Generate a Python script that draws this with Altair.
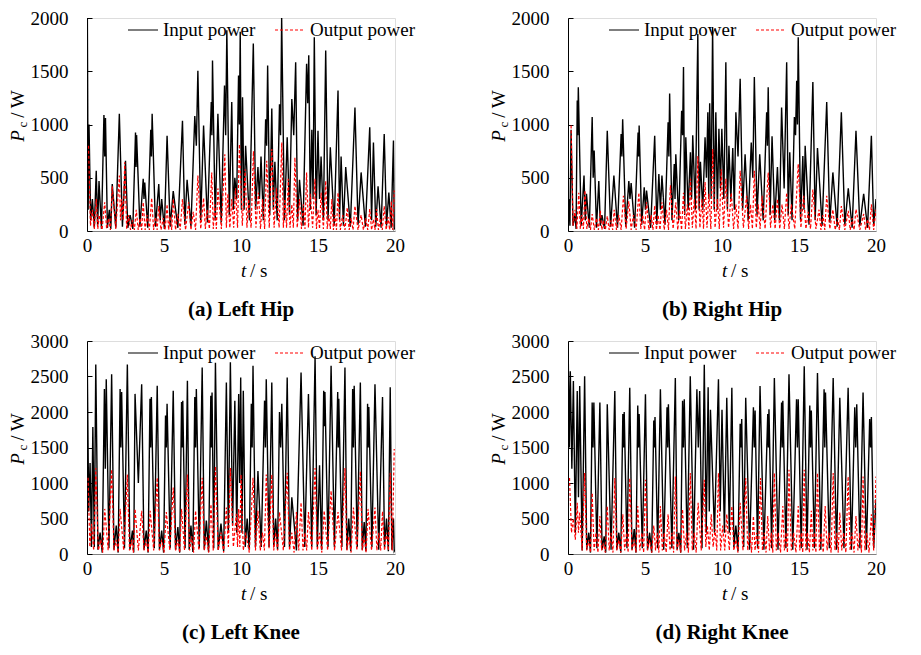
import altair as alt
import pandas as pd

FONT = "Liberation Serif"
SERIES = ["Input power", "Output power"]
COLORS = ["#000000", "#ff0000"]
DASHES = [[1, 0], [3, 2]]
X_TICKS = [0, 5, 10, 15, 20]
HIP_TICKS = [0, 500, 1000, 1500, 2000]
KNEE_TICKS = [0, 500, 1000, 1500, 2000, 2500, 3000]
CAPTIONS = ["(a) Left Hip", "(b) Right Hip", "(c) Left Knee", "(d) Right Knee"]

# (time of peak [s], peak power [W], dip after the peak [W])
A_IN = [(0.02,2100,200),(0.13,1000,100),(0.35,300,30),(0.6,565,50),(0.78,470,20),(1.1,1090,700),(1.2,1060,30),(1.45,200,20),(1.64,440,30),(2.1,1100,40),(2.5,660,30),(2.8,150,20),(3.15,925,600),(3.22,900,40),(3.65,490,300),(3.75,455,30),(4.14,950,700),(4.23,1100,40),(4.66,440,100),(4.85,300,20),(5.2,895,40),(5.6,375,30),(6.2,1035,60),(6.5,480,40),(7.0,1080,800),(7.2,1505,100),(7.57,990,80),(8.07,1210,900),(8.15,1600,100),(8.5,1100,80),(8.93,1365,900),(9.08,1885,150),(9.4,1210,200),(9.6,500,300),(9.84,1460,1000),(9.95,1870,200),(10.1,1255,200),(10.3,800,100),(10.8,1760,200),(11.1,600,300),(11.3,700,100),(11.6,1050,800),(11.73,1555,150),(12.0,1150,200),(12.2,650,100),(12.5,1190,900),(12.64,2000,100),(13.0,880,150),(13.3,1240,900),(13.55,1585,100),(13.8,480,50),(14.26,1570,1200),(14.4,1650,200),(14.6,950,300),(14.76,1820,150),(15.0,940,300),(15.2,700,100),(15.5,1695,100),(15.8,785,50),(16.3,1320,100),(16.5,700,50),(16.8,600,40),(17.4,1160,60),(17.8,550,40),(18.36,975,100),(18.6,830,40),(18.9,420,30),(19.3,910,50),(19.6,360,30),(19.9,850,20),(20.0,30,0)]
A_OUT = [(0.1,800,50),(0.35,200,20),(0.6,300,20),(0.8,150,10),(1.15,270,20),(1.4,120,10),(1.64,420,20),(2.1,520,100),(2.25,300,100),(2.45,645,20),(2.7,150,10),(2.95,100,10),(3.2,200,10),(3.45,120,10),(3.65,270,10),(3.9,150,10),(4.2,310,10),(4.45,130,10),(4.66,235,10),(4.95,120,10),(5.2,250,10),(5.4,140,10),(5.6,300,10),(5.9,160,10),(6.2,300,10),(6.6,270,10),(6.9,180,10),(7.2,520,20),(7.57,310,20),(7.8,200,20),(8.1,550,20),(8.3,250,20),(8.5,400,20),(8.95,720,30),(9.15,350,30),(9.4,300,30),(9.65,400,30),(9.9,815,50),(10.27,580,30),(10.5,300,30),(10.81,750,30),(11.13,360,20),(11.4,300,20),(11.67,660,30),(12.0,770,30),(12.3,400,30),(12.65,830,30),(12.85,300,30),(13.07,490,30),(13.3,250,30),(13.5,690,30),(13.8,300,20),(14.05,250,20),(14.26,550,30),(14.5,350,30),(14.8,490,20),(15.0,200,20),(15.2,360,20),(15.5,470,20),(15.7,150,20),(15.9,300,10),(16.1,150,10),(16.3,360,10),(16.6,150,10),(16.9,220,10),(17.15,120,10),(17.4,235,10),(17.8,150,10),(18.1,120,10),(18.36,205,10),(18.6,110,10),(18.8,205,10),(19.05,120,10),(19.3,235,10),(19.55,130,10),(19.76,280,10),(19.95,380,0)]

B_IN = [(0.05,300,50),(0.2,950,50),(0.45,150,20),(0.6,1225,900),(0.67,1350,50),(1.04,520,100),(1.2,350,30),(1.57,1070,500),(1.7,755,30),(2.0,470,50),(2.2,150,20),(2.55,940,40),(2.98,520,30),(3.45,910,700),(3.55,1050,40),(3.95,470,300),(4.1,450,30),(4.55,925,700),(4.62,990,60),(4.95,410,200),(5.1,380,30),(5.63,895,60),(5.9,535,200),(6.1,520,60),(6.5,1020,700),(6.6,1290,100),(6.9,630,300),(7.0,720,100),(7.38,1130,900),(7.5,1540,150),(7.65,880,200),(7.95,740,300),(8.1,900,200),(8.43,1850,200),(8.6,650,200),(8.9,880,500),(9.08,1115,300),(9.2,1200,300),(9.39,1915,200),(9.6,1115,200),(9.8,960,400),(9.99,960,300),(10.25,1585,200),(10.45,800,300),(10.7,780,200),(10.9,1115,700),(11.18,1430,200),(11.5,720,100),(11.9,830,500),(12.1,1445,150),(12.45,720,100),(12.9,1115,800),(13.0,1350,150),(13.25,890,100),(13.6,600,100),(13.87,1160,400),(14.2,1585,150),(14.4,740,100),(14.7,1070,900),(14.85,1410,1000),(14.95,1820,100),(15.25,705,200),(15.4,800,60),(15.9,1400,100),(16.2,780,50),(16.8,1210,80),(17.2,550,40),(17.75,1115,60),(18.2,400,30),(18.7,940,50),(19.2,350,30),(19.7,895,50),(20.0,300,0)]
B_OUT = [(0.2,990,50),(0.45,200,20),(0.7,360,20),(0.9,150,20),(1.1,380,20),(1.35,120,10),(1.57,160,10),(1.85,120,10),(2.1,190,10),(2.3,100,10),(2.55,140,10),(2.8,100,10),(3.0,200,10),(3.3,150,10),(3.6,330,20),(3.95,280,10),(4.25,150,10),(4.6,360,20),(4.85,150,10),(5.1,270,10),(5.4,150,10),(5.63,240,10),(5.85,150,10),(6.1,270,10),(6.4,200,10),(6.65,430,20),(7.0,270,10),(7.25,200,10),(7.5,360,20),(7.75,250,20),(7.95,490,30),(8.2,300,20),(8.43,705,30),(8.7,300,20),(8.9,460,30),(9.15,350,20),(9.4,770,30),(9.7,300,20),(9.95,580,30),(10.25,490,30),(10.6,360,20),(10.9,250,20),(11.18,565,30),(11.6,330,20),(11.85,250,20),(12.1,565,30),(12.35,250,20),(12.6,330,20),(13.0,550,30),(13.3,250,20),(13.6,300,20),(13.9,250,20),(14.2,360,20),(14.5,250,20),(14.95,630,30),(15.3,330,20),(15.6,180,20),(15.9,390,20),(16.3,200,10),(16.55,150,10),(16.8,330,20),(17.2,200,10),(17.5,120,10),(17.75,235,10),(18.2,190,10),(18.45,120,10),(18.7,205,10),(19.2,160,10),(19.45,110,10),(19.7,250,10),(20.0,200,0)]

C_IN = [(0.02,2650,600),(0.2,1280,100),(0.38,1790,100),(0.57,2670,60),(0.85,300,20),(1.13,2325,1200),(1.25,2460,80),(1.6,2530,60),(1.9,400,20),(2.15,2325,1500),(2.25,2280,80),(2.62,2670,60),(2.95,330,20),(3.12,2255,1000),(3.55,2390,60),(3.85,330,20),(4.09,2185,1500),(4.18,2210,80),(4.56,2370,60),(4.85,330,20),(5.1,1950,1500),(5.2,2115,80),(5.6,2300,60),(5.9,380,20),(6.14,2140,1500),(6.22,2160,80),(6.52,2440,60),(6.75,400,30),(7.0,2210,1500),(7.1,2325,80),(7.48,2625,60),(7.75,470,30),(8.04,2230,1500),(8.12,2275,80),(8.34,2695,60),(8.7,430,40),(9.05,2415,300),(9.31,2700,400),(9.6,2160,300),(9.85,2255,1000),(9.98,2485,300),(10.15,2300,100),(10.4,500,60),(10.67,2115,1500),(10.78,2650,100),(11.1,1170,100),(11.53,2160,1500),(11.64,2460,100),(12.0,2415,100),(12.25,500,60),(12.5,2000,1500),(12.65,2115,100),(13.0,2485,100),(13.3,800,50),(13.9,2555,100),(14.38,2255,100),(14.81,2785,100),(15.1,1250,60),(15.37,2300,1800),(15.45,2280,100),(15.85,2650,100),(16.28,2280,1500),(16.35,2185,100),(16.75,2625,60),(17.0,500,40),(17.25,2325,1500),(17.35,2370,100),(17.75,2415,60),(18.0,450,40),(18.22,2115,1500),(18.3,2070,100),(18.7,2390,60),(19.19,2210,100),(19.45,500,40),(19.69,2350,60),(19.9,500,40),(20.0,60,0)]
C_OUT = [(0.07,1075,100),(0.3,425,50),(0.57,1210,50),(0.9,200,20),(1.15,635,50),(1.6,1190,50),(1.9,200,20),(2.15,635,50),(2.62,1120,50),(2.9,200,20),(3.12,635,50),(3.55,610,50),(3.85,200,20),(4.1,610,50),(4.56,1075,50),(4.85,200,20),(5.15,590,50),(5.6,935,50),(5.9,200,20),(6.14,635,50),(6.52,1120,50),(6.8,250,20),(7.05,610,50),(7.48,1075,50),(7.75,250,20),(8.05,700,50),(8.34,1235,50),(8.7,300,20),(9.05,655,100),(9.31,1210,100),(9.7,565,100),(9.85,635,100),(10.0,1120,50),(10.3,300,20),(10.78,1075,50),(11.1,610,50),(11.4,300,50),(11.64,1120,80),(12.0,1120,50),(12.25,300,50),(12.5,590,50),(13.0,1145,50),(13.3,300,20),(13.6,590,50),(13.9,725,50),(14.15,300,50),(14.38,590,50),(14.81,1210,50),(15.1,300,20),(15.4,610,50),(15.85,890,50),(16.3,590,50),(16.75,1210,50),(17.0,250,20),(17.3,655,50),(17.75,1165,50),(18.0,250,20),(18.25,635,50),(18.7,655,50),(18.95,300,50),(19.19,600,50),(19.45,300,50),(19.69,1145,50),(19.95,1480,0)]

D_IN = [(0.02,2710,1500),(0.15,2575,1200),(0.35,2435,300),(0.6,2295,800),(0.76,2365,50),(1.08,2505,60),(1.35,300,20),(1.57,2135,1500),(1.68,2135,80),(2.07,2135,60),(2.35,250,20),(2.55,2110,60),(3.04,2295,60),(3.3,300,20),(3.56,1970,1500),(3.65,2000,80),(4.01,2340,60),(4.3,350,20),(4.53,2090,1500),(4.62,1970,80),(5.03,2250,60),(5.3,300,20),(5.57,1880,1500),(5.65,1930,80),(6.0,2320,60),(6.43,2065,1500),(6.52,2110,80),(6.97,2480,60),(7.2,300,20),(7.44,2160,1500),(7.55,2180,80),(7.94,2505,60),(8.37,2320,1500),(8.55,2295,80),(8.85,2665,300),(9.1,2350,600),(9.25,2030,300),(9.77,2460,600),(10.0,2030,300),(10.31,2200,300),(10.64,2340,100),(10.9,400,40),(11.18,1835,1500),(11.28,1900,100),(11.54,2200,60),(12.04,2065,1500),(12.15,2020,80),(12.47,2365,60),(12.97,1970,1500),(13.05,2040,80),(13.4,2480,60),(13.87,2135,1500),(13.95,2160,80),(14.35,2530,60),(14.84,2180,1500),(14.95,2180,80),(15.34,2645,60),(15.7,2090,1500),(15.8,2020,80),(16.2,2550,60),(16.63,2320,1500),(16.72,2275,80),(17.22,2480,60),(17.65,2200,80),(18.19,2340,60),(18.62,2065,1500),(18.75,2110,80),(19.16,2275,60),(19.59,1900,1500),(19.7,1930,80),(20.0,770,0)]
D_OUT = [(0.1,1070,300),(0.35,500,200),(0.6,720,300),(0.76,585,50),(1.08,1140,50),(1.35,200,20),(1.57,860,50),(1.82,300,20),(2.07,535,50),(2.3,150,20),(2.55,675,50),(2.8,300,20),(3.04,1070,50),(3.3,200,20),(3.56,560,50),(3.8,300,20),(4.01,1070,50),(4.3,200,20),(4.53,675,50),(4.8,300,20),(5.03,1045,50),(5.3,200,20),(5.57,400,50),(5.8,300,20),(6.0,675,50),(6.25,300,20),(6.5,560,50),(6.75,300,20),(6.97,1090,50),(7.2,200,20),(7.44,630,50),(7.7,300,20),(7.94,1140,50),(8.2,300,20),(8.45,720,50),(8.85,1045,100),(9.05,400,50),(9.3,560,100),(9.55,350,50),(9.77,1140,50),(10.05,400,50),(10.31,560,50),(10.64,675,50),(10.9,200,20),(11.18,720,50),(11.54,1070,50),(11.8,300,20),(12.04,535,50),(12.25,300,20),(12.5,1070,50),(12.75,300,20),(12.97,535,50),(13.2,300,20),(13.4,1140,50),(13.65,300,20),(13.95,675,50),(14.15,300,20),(14.35,1185,50),(14.65,300,20),(14.95,675,50),(15.15,300,20),(15.34,1185,50),(15.55,300,20),(15.8,610,50),(16.0,300,20),(16.2,1140,50),(16.45,300,20),(16.7,675,50),(16.95,300,20),(17.22,1140,50),(17.45,300,20),(17.65,585,50),(17.9,300,20),(18.19,1090,50),(18.45,300,20),(18.7,535,50),(18.95,300,20),(19.16,1090,50),(19.4,300,20),(19.7,560,50),(20.0,1090,0)]

W, H = 308, 213


def table(peaks, name):
    rows = []
    for i, (t, p, dip) in enumerate(peaks):
        rows.append({"t": t, "p": p, "series": name})
        if i + 1 < len(peaks):
            rows.append({"t": (t + peaks[i + 1][0]) / 2, "p": dip, "series": name})
    return pd.DataFrame(rows)


ONE = pd.DataFrame({"k": [0]})


def txt(s, x, y, size=19, style="normal", angle=0, align="center"):
    return alt.Chart(ONE).mark_text(
        text=s, font=FONT, fontSize=size, fontStyle=style, angle=angle,
        align=align, baseline="middle", color="black"
    ).encode(x=alt.value(x), y=alt.value(y))


def panel(inp, out, ymax, yticks, caption):
    df = pd.concat([table(inp, SERIES[0]), table(out, SERIES[1])], ignore_index=True)
    legend = alt.Legend(
        title=None, orient="none", direction="horizontal", legendX=40, legendY=-4,
        labelFont=FONT, labelFontSize=19, labelColor="black", symbolSize=900,
        symbolStrokeWidth=1.2, labelOffset=4, columnPadding=16, padding=0,
        symbolType="stroke",
    )
    color = alt.Color("series:N", scale=alt.Scale(domain=SERIES, range=COLORS), legend=legend)
    dash = alt.StrokeDash("series:N", scale=alt.Scale(domain=SERIES, range=DASHES), legend=legend)
    x = alt.X("t:Q", scale=alt.Scale(domain=[0, 20], nice=False, zero=False),
              axis=alt.Axis(values=X_TICKS, title=None, grid=False, ticks=False,
                            domainColor="#808080", domainWidth=1, labelFont=FONT,
                            labelFontSize=19, labelColor="black", labelPadding=5,
                            labelFlush=False, format="d"))
    yscale = alt.Scale(domain=[0, ymax], nice=False)
    y_left = alt.Y("p:Q", scale=yscale,
                   axis=alt.Axis(values=yticks, title=None, grid=False, ticks=False,
                                 domain=False, labelFont=FONT, labelFontSize=19,
                                 labelColor="black", labelPadding=19, format="d"))
    y_right = alt.Y("p:Q", scale=yscale,
                    axis=alt.Axis(orient="right", offset=-W, values=yticks, labels=False,
                                  title=None, grid=False, ticks=True, tickSize=5,
                                  tickColor="black", domain=True, domainColor="black"))
    base = alt.Chart(df)
    l_in = base.transform_filter(alt.datum.series == SERIES[0]).mark_line(
        strokeWidth=1.4, clip=True).encode(x=x, y=y_left, color=color, strokeDash=dash)
    l_out = base.transform_filter(alt.datum.series == SERIES[1]).mark_line(
        strokeWidth=1.2, clip=True).encode(x=x, y=y_right, color=color, strokeDash=dash)
    texts = [
        txt("P", -69, 118, style="italic", angle=270),
        txt("c", -64, 106.5, size=13, angle=270),
        txt("/ W", -69, 86, angle=270),
        txt("t", 154, H + 40, style="italic", align="left"),
        txt("/ s", 163, H + 40, align="left"),
    ]
    return alt.layer(l_in, l_out, *texts).resolve_axis(y="independent").properties(
        width=W, height=H,
        title=alt.TitleParams(caption, orient="bottom", font=FONT, fontSize=21,
                              fontWeight="bold", color="black", offset=18, anchor="middle"),
    )


pa = panel(A_IN, A_OUT, 2000, HIP_TICKS, CAPTIONS[0])
pb = panel(B_IN, B_OUT, 2000, HIP_TICKS, CAPTIONS[1])
pc = panel(C_IN, C_OUT, 3000, KNEE_TICKS, CAPTIONS[2])
pd_ = panel(D_IN, D_OUT, 3000, KNEE_TICKS, CAPTIONS[3])

RES = dict(x="independent", y="independent", color="independent", strokeDash="independent")
row1 = alt.hconcat(pa, pb, spacing=72).resolve_scale(**RES)
row2 = alt.hconcat(pc, pd_, spacing=72).resolve_scale(**RES)
chart = alt.vconcat(row1, row2, spacing=10).resolve_scale(**RES).properties(
    padding=0
).configure_view(stroke=None).configure(font=FONT)

chart.save("out.html", embed_options={"renderer": "svg", "actions": False})
